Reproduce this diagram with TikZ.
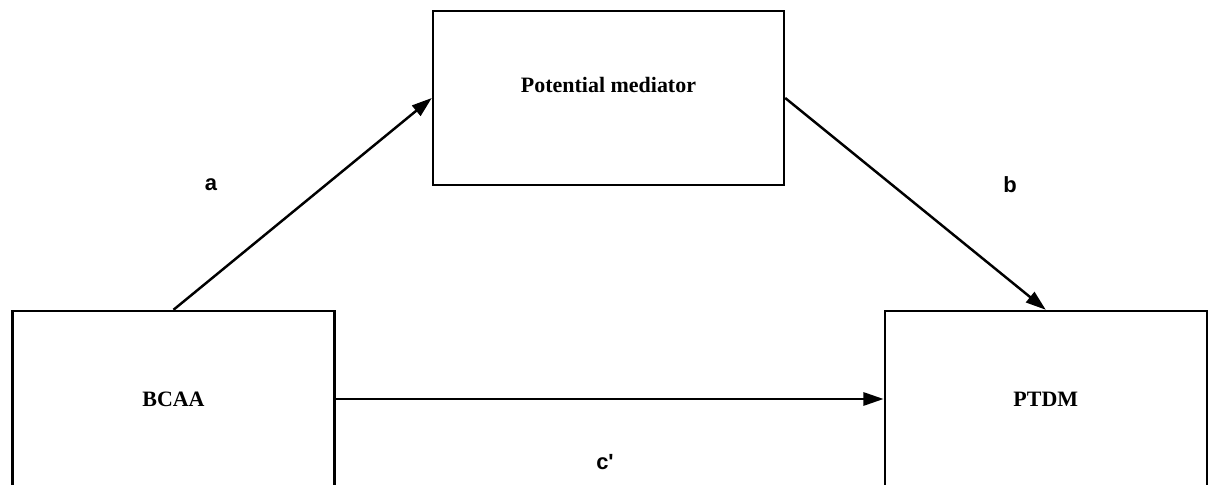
\documentclass[tikz,border=0pt]{standalone}
\usepackage{fontspec}
\setmainfont{Liberation Serif}
\newfontfamily\pathfont{Liberation Sans}
\usepackage{tikz}
\usetikzlibrary{arrows.meta, positioning}

\begin{document}
\begin{tikzpicture}[
        x=0.02cm, y=0.02cm,
        box/.style={rectangle, draw, line width=1.4pt,
                    minimum width=6.44cm, minimum height=3.52cm,
                    align=center, font=\fontsize{12.5}{15}\selectfont\bfseries},
        arr/.style={-{Triangle[length=11.5pt, width=7.5pt]}, line width=1.4pt},
        lbl/.style={font=\pathfont\fontsize{12.5}{15}\selectfont\bfseries}
      ]
        \useasboundingbox (0,0) rectangle (1208,484);
        \clip (0,0) rectangle (1208,484);
        \node[box] (bcaa) at (173.5,85) {BCAA};
        \node[box, right=10.96cm of bcaa] (ptdm) {PTDM};
        \node[box, minimum width=7.02cm, minimum height=3.48cm,
              text depth=15pt] (med) at (608.5,386) {Potential mediator};
        \draw[arr] (bcaa.north) -- (med.west);
        \draw[arr] (med.east) -- (ptdm.north);
        \draw[arr] (bcaa.east) -- (ptdm.west);
        \node[lbl] (la) at (211,299) {a};
        \node[lbl] (lb) at (1010,299) {b};
        \node[lbl] (lc) at (605,22) {c\textquotesingle};
      \end{tikzpicture}
\end{document}
